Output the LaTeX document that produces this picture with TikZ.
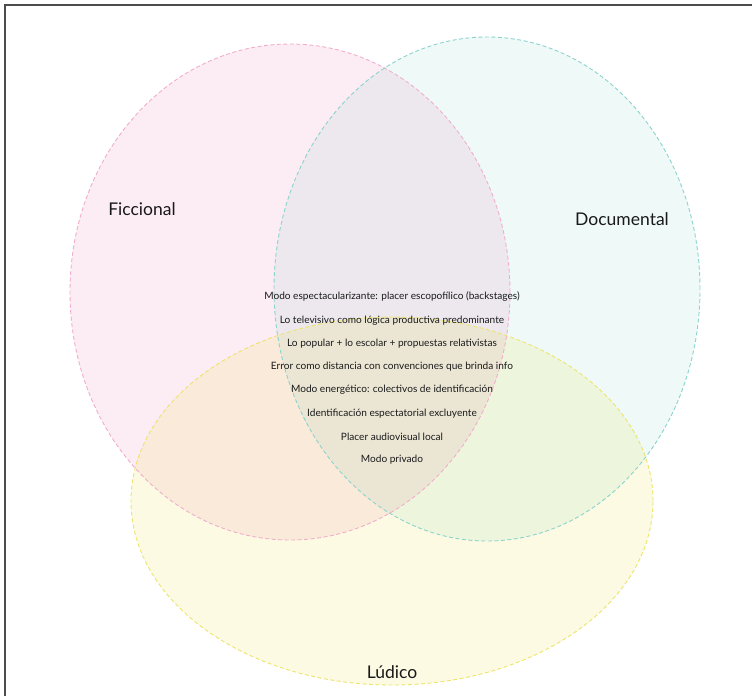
\documentclass[tikz,border=0pt]{standalone}
\usepackage{fontspec}
\setmainfont{Lato}
\usetikzlibrary{calc}

\definecolor{ficpink}{RGB}{232,120,170}
\definecolor{docteal}{RGB}{110,200,192}
\definecolor{ludyellow}{RGB}{232,222,70}

\tikzset{
  setline/.style={dash pattern=on 4pt off 2.5pt, line width=0.9pt},
  setname/.style={font=\fontsize{17.5}{20}\selectfont, text=black!90},
  rasgo/.style={font=\fontsize{10.1}{12}\selectfont, text=black!90}
}

\begin{document}
\begin{tikzpicture}[x=1pt, y=-1pt]
	\useasboundingbox (0,0) rectangle (752,696);
	\draw[line width=1.8pt, black!70] (5,696) -- (5,5) -- (752,5);
	\fill[ficpink, opacity=0.14] (290,292) ellipse [x radius=220pt, y radius=248pt];
	\fill[docteal, opacity=0.11] (487,289) ellipse [x radius=213pt, y radius=252pt];
	\fill[ludyellow, opacity=0.15] (392,501) ellipse [x radius=261pt, y radius=184pt];
	\draw[setline, ficpink!60] (290,292) ellipse [x radius=220pt, y radius=248pt];
	\draw[setline, docteal!80] (487,289) ellipse [x radius=213pt, y radius=252pt];
	\draw[setline, ludyellow!80] (392,501) ellipse [x radius=261pt, y radius=184pt];
	\node[setname] (fic) at (142,209) {Ficcional};
	\node[setname] (doc) at (622,219) {Documental};
	\node[setname] (lud) at (392,672) {Lúdico};
	\node[rasgo] (r1) at (392,297) {Modo espectacularizante: placer escopofílico (backstages)};
	\node[rasgo] (r2) at (392,321) {Lo televisivo como lógica productiva predominante};
	\node[rasgo] (r3) at (392,344) {Lo popular + lo escolar + propuestas relativistas};
	\node[rasgo] (r4) at (392,367) {Error como distancia con convenciones que brinda info};
	\node[rasgo] (r5) at (392,390) {Modo energético: colectivos de identificación};
	\node[rasgo] (r6) at (392,414) {Identificación espectatorial excluyente};
	\node[rasgo] (r7) at (392,437) {Placer audiovisual local};
	\node[rasgo] (r8) at (392,460) {Modo privado};
\end{tikzpicture}
\end{document}
